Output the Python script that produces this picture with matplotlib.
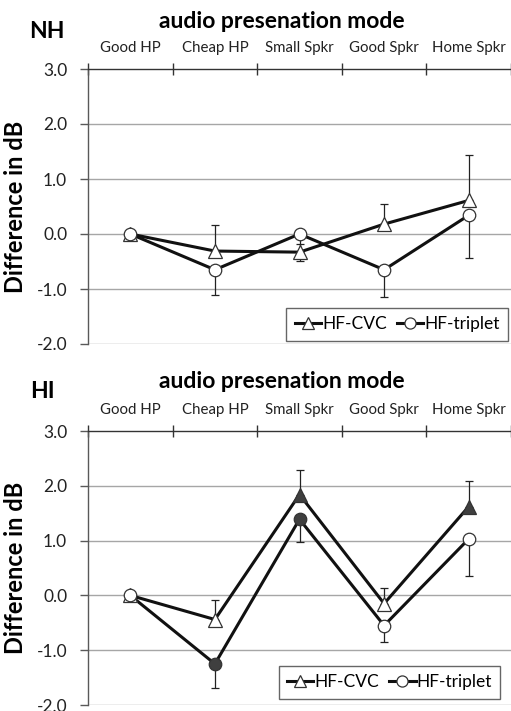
import matplotlib
matplotlib.use("Agg")
import matplotlib.pyplot as plt
from matplotlib.lines import Line2D
import numpy as np

plt.rcParams['font.family'] = ['Lato', 'DejaVu Sans']

categories = ["Good HP", "Cheap HP", "Small Spkr", "Good Spkr", "Home Spkr"]

# NH panel
nh_cvc = [0.0, -0.31, -0.33, 0.18, 0.61]
nh_cvc_err_plus = [0.0, 0.47, 0.15, 0.37, 0.82]
nh_trip = [0.0, -0.65, 0.0, -0.65, 0.34]
nh_trip_err_minus = [0.0, 0.45, 0.49, 0.50, 0.77]
nh_cvc_filled = [False] * 5
nh_trip_filled = [False] * 5

# HI panel
hi_cvc = [0.0, -0.44, 1.84, -0.15, 1.62]
hi_cvc_err_plus = [0.0, 0.36, 0.44, 0.29, 0.46]
hi_trip = [0.0, -1.25, 1.39, -0.55, 1.03]
hi_trip_err_minus = [0.0, 0.44, 0.42, 0.30, 0.68]
hi_cvc_filled = [False, False, True, False, True]
hi_trip_filled = [False, True, True, False, False]

yticks = [3.0, 2.0, 1.0, 0.0, -1.0, -2.0]

fig = plt.figure(figsize=(5.11, 7.11), dpi=100)

FILL = '#3f3f3f'
LINE = '#111111'


def draw(ax, cvc, cvc_err, trip, trip_err, cvc_f, trip_f, leg_anchor):
    x = np.arange(1, len(categories) + 1)
    ax.set_xlim(0.5, 5.5)
    ax.set_ylim(-2.0, 3.0)
    for yv in yticks[1:]:
        ax.axhline(yv, color='#a6a6a6', lw=1.0, zorder=0)
    # error bars
    ax.errorbar(x, cvc, yerr=[np.zeros(5), cvc_err], fmt='none', ecolor='#222222',
                elinewidth=0.9, capsize=3, capthick=0.9, zorder=2)
    ax.errorbar(x, trip, yerr=[trip_err, np.zeros(5)], fmt='none', ecolor='#222222',
                elinewidth=0.9, capsize=3, capthick=0.9, zorder=2)
    ax.plot(x, cvc, color=LINE, lw=2.2, zorder=3)
    ax.plot(x, trip, color=LINE, lw=2.2, zorder=3)
    for xi, yi, f in zip(x, cvc, cvc_f):
        ax.plot(xi, yi, marker='^', ms=10, mfc=FILL if f else 'white',
                mec='#333333', mew=0.9, zorder=4)
    for xi, yi, f in zip(x, trip, trip_f):
        ax.plot(xi, yi, marker='o', ms=9, mfc=FILL if f else 'white',
                mec='#333333', mew=0.9, zorder=4)
    # axes styling
    ax.spines['right'].set_visible(False)
    ax.spines['bottom'].set_visible(False)
    ax.spines['left'].set_color('#595959')
    ax.spines['top'].set_color('#333333')
    ax.spines['left'].set_linewidth(1.0)
    ax.spines['top'].set_linewidth(1.0)
    ax.set_yticks(yticks)
    ax.set_yticklabels([f"{v:.1f}" for v in yticks], fontsize=12.5, color='#222222')
    ax.tick_params(axis='y', direction='out', length=6, width=1.0,
                   color='#595959', pad=9)
    ax.xaxis.tick_top()
    ax.set_xticks(np.arange(0.5, 5.6, 1.0))
    ax.set_xticklabels([])
    ax.tick_params(axis='x', which='major', direction='inout', length=8,
                   width=1.0, color='#333333')
    ax.set_xticks(x, minor=True)
    ax.set_xticklabels(categories, minor=True, fontsize=10.8, color='#222222')
    ax.tick_params(axis='x', which='minor', length=0, pad=10, top=True,
                   labeltop=True, bottom=False, labelbottom=False)
    ax.set_ylabel("Difference in dB", fontsize=17, fontweight='bold')
    ax.set_facecolor('white')
    handles = [
        Line2D([], [], color=LINE, lw=2.2, marker='^', ms=9, mfc='white',
               mec='#333333', mew=0.9),
        Line2D([], [], color=LINE, lw=2.2, marker='o', ms=8, mfc='white',
               mec='#333333', mew=0.9),
    ]
    leg = ax.legend(handles, ["HF-CVC", "HF-triplet"], loc='lower right',
                    ncol=2, fontsize=12.5, frameon=True, fancybox=False,
                    edgecolor='#404040', handlelength=1.5, handletextpad=0.05,
                    columnspacing=0.6, borderpad=0.5, borderaxespad=0.0,
                    bbox_to_anchor=leg_anchor)
    leg.get_frame().set_linewidth(1.0)


ax1 = fig.add_axes([88 / 511, 1 - 344 / 711, 1 - 88 / 511, (344 - 69) / 711])
draw(ax1, nh_cvc, nh_cvc_err_plus, nh_trip, nh_trip_err_minus, nh_cvc_filled,
     nh_trip_filled, (0.993, 0.011))
ax2 = fig.add_axes([88 / 511, 1 - 705 / 711, 1 - 88 / 511, (705 - 431) / 711])
draw(ax2, hi_cvc, hi_cvc_err_plus, hi_trip, hi_trip_err_minus, hi_cvc_filled,
     hi_trip_filled, (0.975, 0.022))

for ax in (ax1, ax2):
    ax.yaxis.set_label_coords(-(88 - 27) / 423, 0.5)

fig.text(282 / 511, 1 - 22 / 711, "audio presenation mode", ha='center', va='center',
         fontsize=16.5, fontweight='bold')
fig.text(47 / 511, 1 - 32 / 711, "NH", ha='center', va='center', fontsize=16.5,
         fontweight='bold')
fig.text(282 / 511, 1 - 381 / 711, "audio presenation mode", ha='center', va='center',
         fontsize=16.5, fontweight='bold')
fig.text(42 / 511, 1 - 391 / 711, "HI", ha='center', va='center', fontsize=16.5,
         fontweight='bold')

fig.savefig("out.png", dpi=100, facecolor='white')
